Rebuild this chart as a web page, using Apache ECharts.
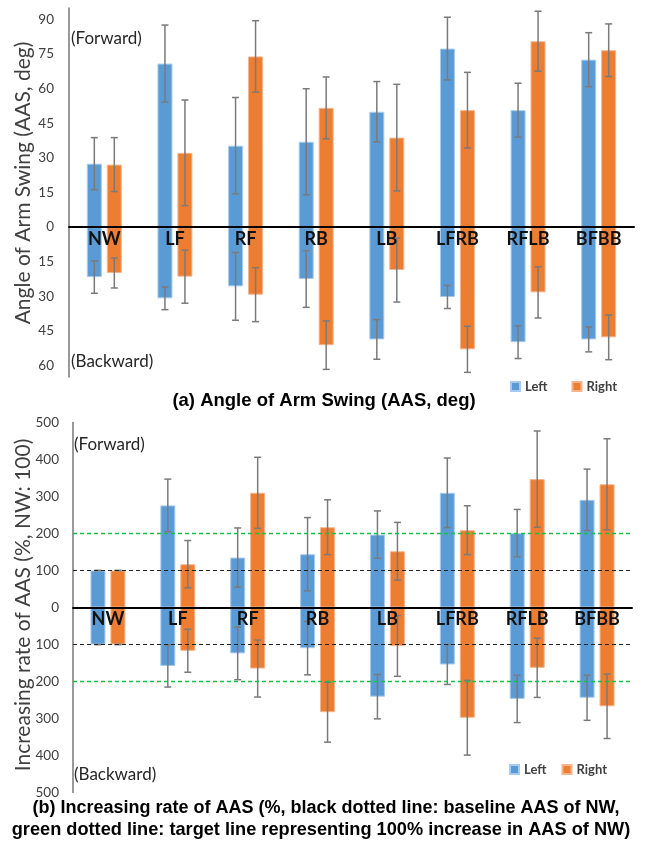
<!DOCTYPE html>
<html>
<head>
<meta charset="utf-8">
<script src="https://cdn.jsdelivr.net/npm/echarts@6/dist/echarts.min.js"></script>
<style>
html,body{margin:0;padding:0;background:#fff;}
#chart{width:650px;height:846px;}
</style>
</head>
<body>
<div id="chart"></div>
<script>
// ---------- data ----------
const categories = ['NW', 'LF', 'RF', 'RB', 'LB', 'LFRB', 'RFLB', 'BFBB'];

// (a) Angle of Arm Swing (deg) : forward (up) and backward (down) magnitudes, with SD
const aFwdLeft    = [27.5, 70.9, 35.3, 37.0, 50.0, 77.4, 50.7, 72.6];
const aFwdLeftSD  = [11.3, 16.7, 20.9, 23.0, 13.1, 13.6, 11.7, 11.7];
const aFwdRight   = [27.1, 32.2, 74.0, 51.7, 38.8, 50.7, 80.6, 76.7];
const aFwdRightSD = [11.7, 22.9, 15.5, 13.4, 23.1, 16.4, 13.0, 11.4];
const aBwdLeft    = [21.7, 30.9, 25.7, 22.5, 48.7, 30.3, 49.9, 48.7];
const aBwdLeftSD  = [7.0, 4.9, 14.7, 12.3, 8.6, 5.0, 7.1, 5.4];
const aBwdRight   = [19.9, 21.5, 29.3, 51.2, 18.6, 53.0, 28.3, 47.8];
const aBwdRightSD = [6.5, 11.5, 11.7, 10.5, 13.9, 10.0, 11.1, 9.7];

// (b) Increasing rate of AAS (%, NW = 100)
const bFwdLeft    = [100, 276, 135, 144, 197, 310, 201, 291];
const bFwdLeftSD  = [0, 71, 80, 99, 64, 94, 64, 83];
const bFwdRight   = [100, 117, 310, 217, 152, 209, 347, 333];
const bFwdRightSD = [0, 64, 96, 74, 78, 66, 130, 123];
const bBwdLeft    = [100, 158, 124, 110, 241, 154, 247, 244];
const bBwdLeftSD  = [0, 57, 71, 72, 60, 54, 64, 61];
const bBwdRight   = [100, 117, 165, 283, 104, 298, 163, 267];
const bBwdRightSD = [0, 58, 77, 81, 82, 101, 80, 87];

const aTickLabels = [60, 45, 30, 15, 0, 15, 30, 45, 60, 75, 90];   // |value| shown
const bTickLabels = [500, 400, 300, 200, 100, 0, 100, 200, 300, 400, 500];
const baselineLines = [100, -100];   // black dotted: baseline AAS of NW
const targetLines = [200, -200];     // green dotted: 100% increase

// ---------- style ----------
const BLUE = '#5B9BD5', ORANGE = '#ED7D31';
const BLUE_EDGE = '#a8cbed', ORANGE_EDGE = '#f6b48c';
const LABEL_FONT = 'Lato';
const BAR_W = 15;
const ERR_OFF = 10;

const A_MIN = -65, A_MAX = 95, A_H = 369;
const B_MIN = -500, B_MAX = 500, B_H = 370;

const chart = echarts.init(document.getElementById('chart'), null, {renderer: 'canvas'});

function barSeries(name, values, sign, stack, gi, color, edge, extra) {
  const s = {
    type: 'bar', name: name, stack: stack + gi,
    xAxisIndex: gi, yAxisIndex: gi,
    barWidth: BAR_W, barGap: '33%',
    data: values.map(v => sign * v),
    itemStyle: {color: color, borderColor: edge, borderWidth: 1},
    z: 2, silent: true
  };
  return Object.assign(s, extra || {});
}

function errSeries(means, sds, sign, offset, gi) {
  return {
    type: 'custom', name: 'err', xAxisIndex: gi, yAxisIndex: gi, z: 5, silent: true,
    data: means.map((m, i) => [i, sign * m, sds[i]]),
    renderItem: function (params, api) {
      const i = api.value(0), m = api.value(1), sd = api.value(2);
      const p1 = api.coord([i, m + sd]);
      const p2 = api.coord([i, m - sd]);
      const x = p1[0] + offset;
      const st = {stroke: '#7a7a7a', lineWidth: 1.5};
      const c = 3.5;
      return {
        type: 'group',
        children: [
          {type: 'line', shape: {x1: x, y1: p1[1], x2: x, y2: p2[1]}, style: st},
          {type: 'line', shape: {x1: x - c, y1: p1[1], x2: x + c, y2: p1[1]}, style: st},
          {type: 'line', shape: {x1: x - c, y1: p2[1], x2: x + c, y2: p2[1]}, style: st}
        ]
      };
    }
  };
}

function xAxis(gi, zeroOffset) {
  return {
    type: 'category', gridIndex: gi, data: categories, z: 10,
    position: 'bottom', offset: -zeroOffset,
    axisLine: {onZero: false, lineStyle: {color: '#000', width: 2}},
    axisTick: {show: false},
    axisLabel: {margin: 3, color: '#111', fontFamily: LABEL_FONT, fontWeight: 'bold', fontSize: 18, interval: 0},
    splitLine: {show: false}
  };
}

const baselineMark = {
  symbol: ['none', 'none'], silent: true, label: {show: false}, z: 6,
  lineStyle: {color: '#222222', type: [4, 3], width: 1},
  emphasis: {disabled: true},
  data: baselineLines.map(v => ({yAxis: v, lineStyle: {color: '#222222'}}))
};
const targetMark = {
  symbol: ['none', 'none'], silent: true, label: {show: false}, z: 6,
  lineStyle: {color: '#12c247', type: [4, 3], width: 1.3},
  emphasis: {disabled: true},
  data: targetLines.map(v => ({yAxis: v, lineStyle: {color: '#12c247'}}))
};

const option = {
  backgroundColor: '#fff',
  animation: false,
  grid: [
    {left: 69, right: 16, top: 8, height: A_H},
    {left: 73, right: 18, top: 422.5, height: B_H}
  ],
  xAxis: [
    xAxis(0, A_H * (0 - A_MIN) / (A_MAX - A_MIN)),
    xAxis(1, B_H * (0 - B_MIN) / (B_MAX - B_MIN))
  ],
  yAxis: [
    {
      type: 'value', gridIndex: 0, min: A_MIN, max: A_MAX, interval: 5,
      axisLine: {show: true, lineStyle: {color: '#777', width: 1.5}},
      axisTick: {show: false}, splitLine: {show: false},
      axisLabel: {
        margin: 15, color: '#404040', fontFamily: LABEL_FONT, fontSize: 13.5,
        formatter: v => {
          if (v % 15 !== 0 || v < -60 || v > 90) return '';
          const idx = (v + 60) / 15;
          return String(aTickLabels[idx]);
        }
      }
    },
    {
      type: 'value', gridIndex: 1, min: B_MIN, max: B_MAX, interval: 100,
      axisLine: {show: true, lineStyle: {color: '#777', width: 1.5}},
      axisTick: {show: false}, splitLine: {show: false},
      axisLabel: {
        margin: 14, color: '#404040', fontFamily: LABEL_FONT, fontSize: 13.5,
        formatter: v => String(bTickLabels[Math.round((v + 500) / 100)])
      }
    }
  ],
  legend: [
    {
      data: ['Left', 'Right'], left: 505, top: 375, icon: 'rect', itemWidth: 9, itemHeight: 9, itemGap: 24,
      textStyle: {color: '#404040', fontFamily: LABEL_FONT, fontWeight: 'bold', fontSize: 13}, selectedMode: false
    },
    {
      data: ['Left', 'Right'], left: 504, top: 758, icon: 'rect', itemWidth: 9, itemHeight: 9, itemGap: 15,
      textStyle: {color: '#404040', fontFamily: LABEL_FONT, fontWeight: 'bold', fontSize: 13}, selectedMode: false
    }
  ],
  series: [
    barSeries('Left', aFwdLeft, 1, 'L', 0, BLUE, BLUE_EDGE),
    barSeries('Left', aBwdLeft, -1, 'L', 0, BLUE, BLUE_EDGE),
    barSeries('Right', aFwdRight, 1, 'R', 0, ORANGE, ORANGE_EDGE),
    barSeries('Right', aBwdRight, -1, 'R', 0, ORANGE, ORANGE_EDGE),
    errSeries(aFwdLeft, aFwdLeftSD, 1, -ERR_OFF, 0),
    errSeries(aBwdLeft, aBwdLeftSD, -1, -ERR_OFF, 0),
    errSeries(aFwdRight, aFwdRightSD, 1, ERR_OFF, 0),
    errSeries(aBwdRight, aBwdRightSD, -1, ERR_OFF, 0),

    barSeries('Left', bFwdLeft, 1, 'L', 1, BLUE, BLUE_EDGE, {markLine: baselineMark}),
    barSeries('Left', bBwdLeft, -1, 'L', 1, BLUE, BLUE_EDGE),
    barSeries('Right', bFwdRight, 1, 'R', 1, ORANGE, ORANGE_EDGE, {markLine: targetMark}),
    barSeries('Right', bBwdRight, -1, 'R', 1, ORANGE, ORANGE_EDGE),
    errSeries(bFwdLeft, bFwdLeftSD, 1, -ERR_OFF, 1),
    errSeries(bBwdLeft, bBwdLeftSD, -1, -ERR_OFF, 1),
    errSeries(bFwdRight, bFwdRightSD, 1, ERR_OFF, 1),
    errSeries(bBwdRight, bBwdRightSD, -1, ERR_OFF, 1)
  ],
  graphic: [
    {type: 'text', x: 71, y: 39, style: {text: '(Forward)', font: '17px Lato', fill: '#262626', verticalAlign: 'middle'}},
    {type: 'text', x: 71, y: 362, style: {text: '(Backward)', font: '17px Lato', fill: '#262626', verticalAlign: 'middle'}},
    {type: 'text', x: 74, y: 445, style: {text: '(Forward)', font: '17px Lato', fill: '#262626', verticalAlign: 'middle'}},
    {type: 'text', x: 74, y: 775, style: {text: '(Backward)', font: '17px Lato', fill: '#262626', verticalAlign: 'middle'}},
    {type: 'text', x: 23, y: 183, rotation: Math.PI / 2,
      style: {text: 'Angle of Arm Swing (AAS, deg)', font: '21px Lato', fill: '#404040', align: 'center', verticalAlign: 'middle'}},
    {type: 'text', x: 23, y: 605, rotation: Math.PI / 2,
      style: {text: 'Increasing rate of AAS (%, NW: 100)', font: '21px Lato', fill: '#404040', align: 'center', verticalAlign: 'middle'}},
    {type: 'text', x: 324, y: 401,
      style: {text: '(a) Angle of Arm Swing (AAS, deg)', font: 'bold 18.5px "Liberation Sans"', fill: '#000', align: 'center', verticalAlign: 'middle'}},
    {type: 'text', x: 326, y: 808,
      style: {text: '(b) Increasing rate of AAS (%, black dotted line: baseline AAS of NW,', font: 'bold 18px "Liberation Sans"', fill: '#000', align: 'center', verticalAlign: 'middle'}},
    {type: 'text', x: 321, y: 830,
      style: {text: 'green dotted line: target line representing 100% increase in AAS of NW)', font: 'bold 18.2px "Liberation Sans"', fill: '#000', align: 'center', verticalAlign: 'middle'}}
  ]
};
chart.setOption(option);
</script>
</body>
</html>
